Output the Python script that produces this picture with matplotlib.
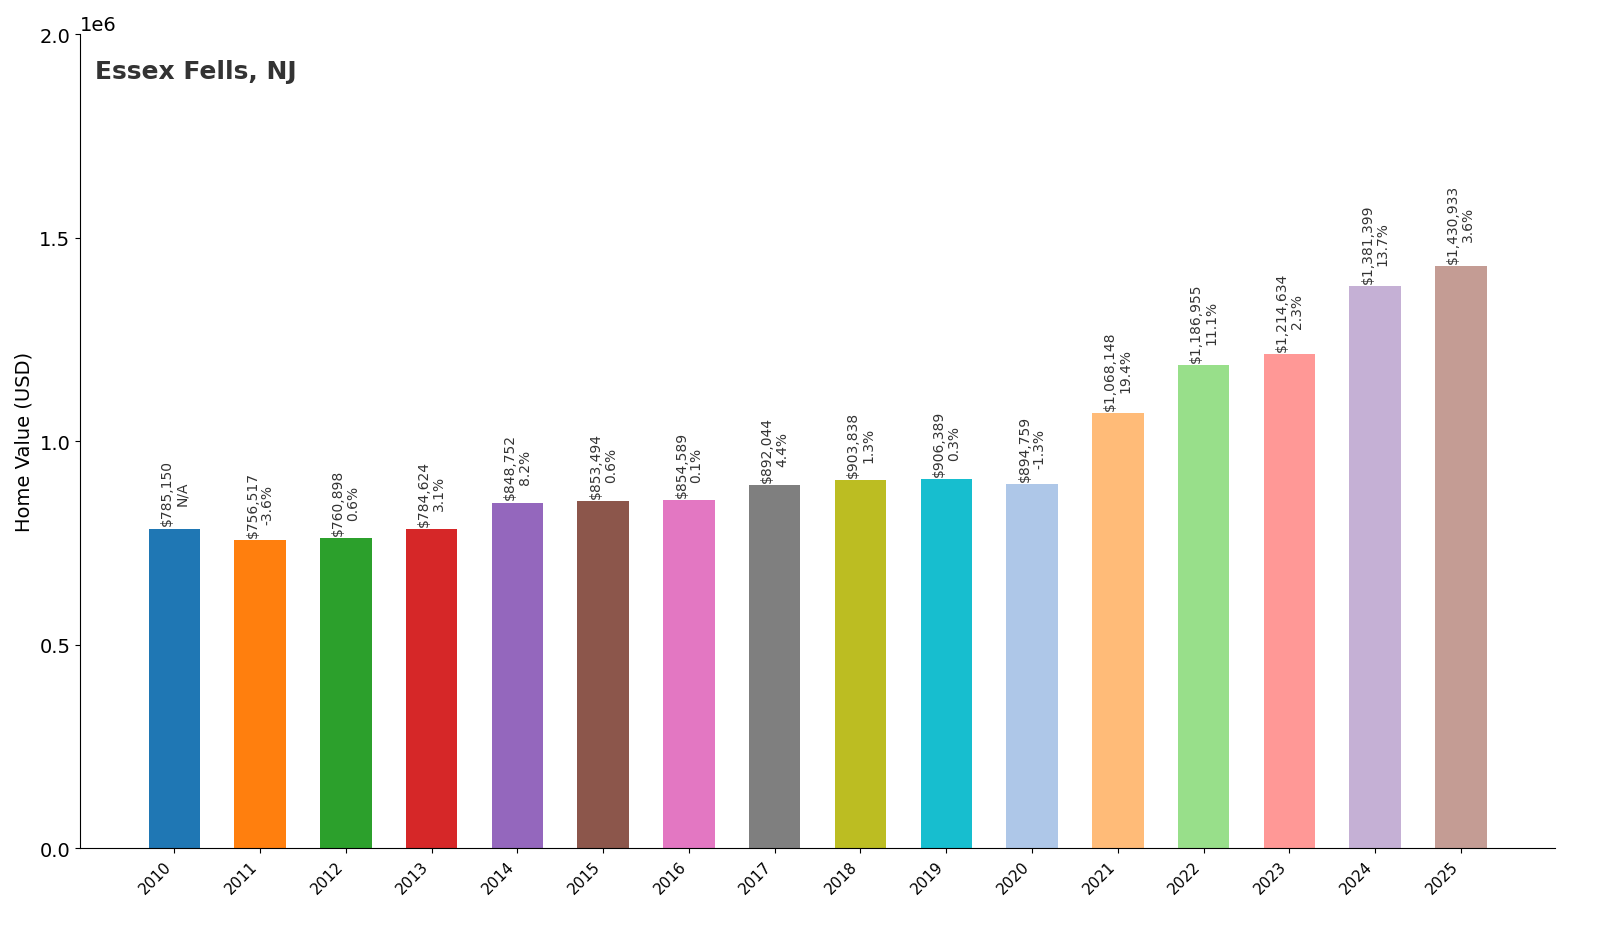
import matplotlib
matplotlib.use("Agg")
import matplotlib.pyplot as plt

years = [str(y) for y in range(2010, 2026)]
values = [785150, 756517, 760898, 784624, 848752, 853494, 854589, 892044,
          903838, 906389, 894759, 1068148, 1186955, 1214634, 1381399, 1430933]
changes = ["N/A", "-3.6%", "0.6%", "3.1%", "8.2%", "0.6%", "0.1%", "4.4%",
           "1.3%", "0.3%", "-1.3%", "19.4%", "11.1%", "2.3%", "13.7%", "3.6%"]
colors = ["#1f77b4", "#ff7f0e", "#2ca02c", "#d62728", "#9467bd", "#8c564b",
          "#e377c2", "#7f7f7f", "#bcbd22", "#17becf", "#aec7e8", "#ffbb78",
          "#98df8a", "#ff9896", "#c5b0d5", "#c49c94"]

fig = plt.figure(figsize=(16, 9.28), dpi=100)
ax = fig.add_axes([0.05, 0.085, 0.922, 0.877])
x = range(len(years))
ax.bar(x, values, width=0.6, color=colors)
for i, (v, c) in enumerate(zip(values, changes)):
    ax.text(i, v + 8000, f"${v:,}\n{c}", rotation=90, ha="center", va="bottom",
            fontsize=10, color="#333333", linespacing=1.1)

ax.set_xticks(list(x))
ax.set_xticklabels(years, rotation=45, ha="right", fontsize=11)
ax.set_xlim(-1.1, 16.1)
ax.set_ylim(0, 2e6)
ax.set_yticks([0, 0.5e6, 1e6, 1.5e6, 2e6])
ax.tick_params(axis="y", labelsize=14)
ax.yaxis.get_offset_text().set_fontsize(14)
ax.set_ylabel("Home Value (USD)", fontsize=14)
ax.spines["top"].set_visible(False)
ax.spines["right"].set_visible(False)
ax.text(0.01, 0.97, "Essex Fells, NJ", transform=ax.transAxes, fontsize=18,
        fontweight="bold", color="#333333", va="top")
fig.savefig("out.png", dpi=100)
